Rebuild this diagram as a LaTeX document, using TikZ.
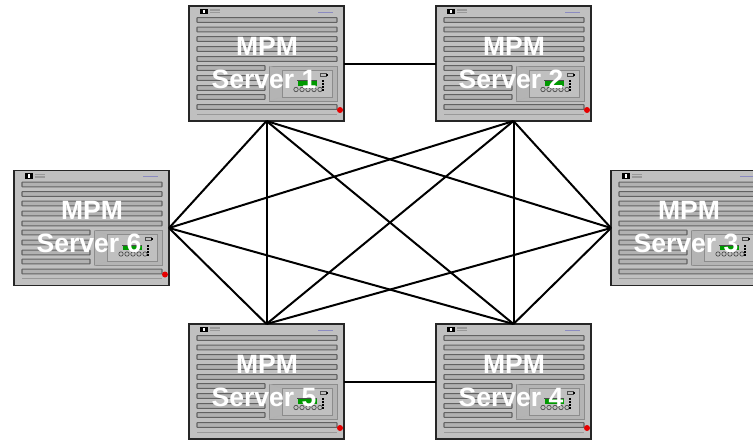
\documentclass[tikz,border=0pt]{standalone}
\usepackage{fontspec}
\setmainfont{Liberation Sans}
\definecolor{body}{HTML}{C0C0C0}
\definecolor{slotc}{HTML}{626262}
\definecolor{panelc}{HTML}{B4B4B4}
\tikzset{
  x=1pt,y=-1pt,
  serverbox/.style={draw=black!85,line width=1.1pt,fill=body,minimum width=155pt,minimum height=115pt,inner sep=0pt,outer sep=0pt},
  slot/.style={draw=slotc,line width=1.1pt,fill=body!92!black,rounded corners=0.6pt},
  panel/.style={draw=black!45,line width=0.7pt,fill=panelc},
  slab/.style={font=\bfseries\fontsize{26.5}{26.5}\selectfont,text=white,inner sep=0pt,anchor=base},
  wire/.style={draw=black,line width=2pt},
}
\newcommand{\serverunit}[4]{% name, left, top, number
  \node[serverbox,anchor=north west] (#1) at (#2,#3) {};
  \begin{scope}[shift={(#2,#3)}]
    \foreach \yy in {14,23.5,33,43,53,101}{\draw[slot] (8,\yy-2.4) rectangle (148,\yy+2.4);}
    \foreach \yy in {62,72,82,91}{\draw[slot] (8,\yy-2.4) rectangle (76,\yy+2.4);}
    \draw[black!40,line width=0.8pt] (8,108) -- (148,108);
    \fill[black] (11,2.5) rectangle (19,8);
    \fill[white] (14,3.5) rectangle (16,7);
    \draw[black!40,line width=1.2pt] (21,4) -- (31,4) (21,6.5) -- (31,6.5);
    \draw[blue!30!gray!70,line width=0.8pt] (129,6) -- (144,6);
    \draw[panel] (80,60) rectangle (148,95);
    \draw[black!30,line width=0.5pt] (80,60) -- (93,64) (93,91) -- (80,95);
    \draw[panel,fill=body] (93,64) rectangle (143,91);
    \fill[black!70] (108,74) rectangle (128,75);
    \fill[green!60!black] (109,75) rectangle (128,79.5);
    \draw[black!70,line width=0.7pt,fill=body] (131,67) rectangle (137,70);
    \fill[black] (137,67.5) rectangle (139,69.5);
    \foreach \xx in {107,113,119,125,131}{\draw[black!75,line width=0.6pt] (\xx,83.5) circle (2.2pt);}
    \foreach \yy in {74,77,80,83}{\fill[black] (133,\yy) rectangle (135,\yy+2);}
    \fill[red!90!black] (151,104) circle (3pt);
    \node[slab] (#1t1) at (78,49) {MPM};
    \node[slab] (#1t2) at (75,82) {Server #4};
  \end{scope}
}
\begin{document}
\begin{tikzpicture}
\useasboundingbox (0,0) rectangle (753,440);
\clip (0,0) rectangle (753,440);
\fill[white] (0,0) rectangle (753,440);
\serverunit{sa}{189}{6}{1}
\serverunit{sb}{436}{6}{2}
\serverunit{sc}{611}{170.5}{3}
\serverunit{sd}{436}{324}{4}
\serverunit{se}{189}{324}{5}
\serverunit{sf}{14}{170.5}{6}
\draw[wire] (sa.east) -- (sb.west);
\draw[wire] (se.east) -- (sd.west);
\foreach \p/\q in {sa.south/sf.east,sa.south/sc.west,sa.south/sd.north,sa.south/se.north,
                   sb.south/sf.east,sb.south/sc.west,sb.south/sd.north,sb.south/se.north,
                   sf.east/se.north,sf.east/sd.north,sc.west/se.north,sc.west/sd.north}{
  \draw[wire] (\p) -- (\q);
}
\end{tikzpicture}
\end{document}
